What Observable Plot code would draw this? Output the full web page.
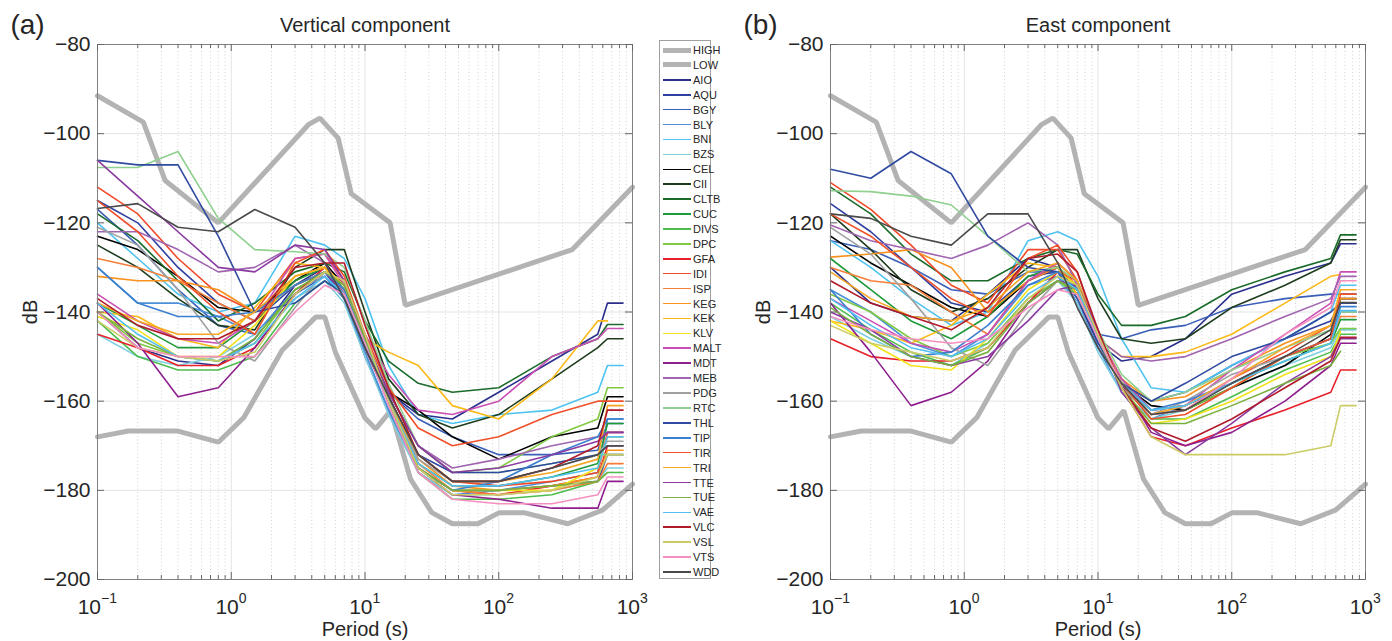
<!DOCTYPE html>
<html><head><meta charset="utf-8">
<script src="https://cdn.jsdelivr.net/npm/d3@7"></script>
<script src="https://cdn.jsdelivr.net/npm/@observablehq/plot@0.6"></script>
<style>
body{margin:0;background:#fff;font-family:"Liberation Sans",Arial,sans-serif;}
#wrap{position:relative;width:1392px;height:641px;overflow:hidden;background:#fff;}
#wrap svg{position:absolute;top:0;}
#legend{position:absolute;left:659px;top:40px;width:52px;height:539px;border:1px solid #a0a0a0;background:#fff;box-sizing:border-box;}
.lrow{position:absolute;left:0;height:14px;width:100%;}
.lsw{position:absolute;left:3px;width:28px;}
.ltx{position:absolute;left:33px;top:0;font-size:11px;line-height:14px;color:#262626;white-space:nowrap;}
</style></head><body><div id="wrap"><div id="legend"></div></div>
<script>
// ---------- data ----------
const periods = [0.1, 0.2, 0.4, 0.8, 1.5, 3, 5, 7, 10, 15, 25, 45, 100, 250, 550, 650, 850];

const highPeriods = [0.1, 0.22, 0.32, 0.8, 3.8, 4.6, 6.3, 7.9, 15.4, 20, 354.8, 1000];
const highDB      = [-91.5, -97.4, -110.5, -120, -97.9, -96.5, -101, -113.5, -120, -138.5, -126, -112];
const lowPeriods  = [0.1, 0.17, 0.4, 0.8, 1.24, 2.4, 4.3, 5, 6, 10, 12, 15.6, 21.9, 31.6, 45, 70, 101, 154, 328, 600, 1000];
const lowDB       = [-168, -166.7, -166.7, -169.2, -163.7, -148.6, -141.1, -141.1, -149, -163.8, -166.2, -162.1, -177.5, -185, -187.5, -187.5, -185, -185, -187.5, -184.4, -178.6];

const stationNames = ["AIO","AQU","BGY","BLY","BNI","BZS","CEL","CII","CLTB","CUC","DIVS","DPC","GFA","IDI","ISP","KEG","KEK","KLV","MALT","MDT","MEB","PDG","RTC","THL","TIP","TIR","TRI","TTE","TUE","VAE","VLC","VSL","VTS","WDD"];
const stationColors = ["#2b2f8c","#2e3fa0","#3a5fb8","#4a8fd8","#4fc3f0","#7dcfe0","#000000","#1e3d1e","#1a6b2a","#1f9a3a","#4dbd4d","#80c940","#e8202a","#f04a2a","#f57f3a","#f7921e","#fbb917","#f2e21a","#c94fb5","#8e1f8e","#a064b0","#a0a0a0","#8fd08f","#2f4aa0","#3a7fcf","#f0502a","#f5a623","#8a3aa0","#7ab040","#52bff0","#b01a2a","#cccc66","#f58fc0","#4a4a4a"];

// Vertical component (dB) at `periods`
const verticalDB = [
 [-140,-148,-151,-152,-146,-134,-130,-135,-147,-158,-163,-164,-158,-151,-145,-138,-138], // AIO
 [-115,-120,-130,-138,-142,-134,-131,-137,-150,-162,-175,-180,-180,-179,-178,-172,-172], // AQU
 [-117,-125,-135,-143,-145,-136,-132,-137,-148,-158,-164,-168,-172,-172,-171,-165,-165], // BGY
 [-130,-138,-138,-141,-145,-135,-132,-137,-149,-162,-176,-181,-180,-178,-176,-164,-164], // BLY
 [-120,-128,-136,-140,-138,-123,-125,-128,-137,-152,-163,-165,-163,-162,-158,-152,-152], // BNI
 [-145,-150,-152,-150,-145,-137,-133,-138,-150,-163,-176,-181,-181,-180,-178,-175,-175], // BZS
 [-123,-126,-132,-139,-140,-133,-129,-134,-147,-158,-162,-168,-173,-168,-166,-159,-159], // CEL
 [-125,-130,-137,-143,-144,-130,-126,-126,-140,-155,-163,-166,-163,-155,-148,-146,-146], // CII
 [-118,-124,-133,-142,-138,-131,-129,-131,-142,-151,-156,-158,-157,-150,-146,-142.8,-142.8], // CLTB
 [-138,-143,-148,-148,-142,-133,-130,-135,-147,-160,-174,-179,-179,-177,-174,-165,-165], // CUC
 [-142,-150,-153,-153,-150,-138,-133,-136,-146,-160,-176,-182,-182,-181,-178,-176,-176], // DIVS
 [-140,-147,-150,-151,-147,-135,-131,-134,-146,-158,-170,-176,-175,-168,-164,-157,-157], // DPC
 [-145,-148,-152,-152,-148,-136,-130,-134,-146,-160,-175,-180,-181,-179,-177,-170,-170], // GFA
 [-112,-118,-128,-136,-140,-128,-127,-133,-146,-159,-172,-178,-179,-178,-176,-167,-167], // IDI
 [-128,-130,-133,-138,-142,-132,-130,-136,-148,-160,-174,-180,-181,-180,-178,-174,-174], // ISP
 [-132,-133,-133,-135,-140,-134,-131,-135,-147,-159,-173,-179,-180,-179,-177,-171,-171], // KEG
 [-140,-141,-146,-148,-139,-129,-130,-136,-146,-149,-152,-161,-164,-155,-142,-142,null], // KEK
 [-141,-144,-150,-150,-143,-132,-130,-134,-146,-160,-175,-180,-180,-180,-175,-168,-168], // KLV
 [-136,-142,-146,-147,-142,-128,-127,-134,-145,-154,-162,-163,-160,-150,-146,-143.7,-143.7], // MALT
 [-138,-147,-159,-157,-148,-136,-131,-136,-148,-160,-175,-181,-182,-184,-184,-178,-178], // MDT
 [-122,-122,-126,-131,-130,-125,-129,-136,-147,-158,-170,-175,-173,-170,-168,-167,-167], // MEB
 [-121,-125,-135,-147,-151,-139,-131,-135,-147,-159,-173,-178,-178,-175,-172,-169,-169], // PDG
 [-107.6,-107.6,-104,-119,-126,-126.5,-127,-130,-142,-156,-170,-176,-176,-174,-172,-172,-172], // RTC
 [-106,-107,-107,-123,-140,-138,-133,-136,-148,-159,-172,-176,-176,-174,-172,-170,-170], // THL
 [-130,-138,-141,-141,-140,-134,-131,-135,-146,-160,-175,-180,-178,-172,-168,-164,-164], // TIP
 [-115,-122,-132,-140,-145,-129,-126,-132,-145,-157,-166,-170,-168,-163,-160,-160,-160], // TIR
 [-138,-142,-145,-145,-140,-132,-130,-134,-146,-160,-172,-178,-178,-176,-173,-161,-161], // TRI
 [-106,-114,-122,-130,-131,-125,-126,-133,-146,-158,-170,-176,-175,-172,-169,-167,-167], // TTE
 [-140,-146,-150,-151,-146,-135,-131,-134,-146,-160,-175,-180,-180,-179,-178,-176,null], // TUE
 [-138,-145,-150,-151,-147,-137,-132,-136,-147,-160,-174,-179,-179,-177,-175,-168,-168], // VAE
 [-137,-143,-146,-146,-142,-130,-129,-129,-143,-157,-172,-178,-178,-175,-170,-162,-162], // VLC
 [-142,-148,-150,-151,-149,-136,-131,-133,-145,-160,-175,-181,-181,-180,-177,-172,-172], // VSL
 [-140,-148,-150,-150,-150,-140,-134,-136,-147,-161,-176,-182,-183,-183,-181,-177,-177], // VTS
 [-116.8,-115.7,-121,-122,-117,-121,-129,-137,-148,-159,-172,-178,-178,-175,-172,-170,-170] // WDD
];

// East component (dB) at `periods`
const eastDB = [
 [-130,-138,-141,-142,-136,-128,-130,-137,-147,-151,-150,-146,-136,-132,-129,-124.7,-124.7], // AIO
 [-115.7,-122,-130,-138,-140,-132,-131,-138,-148,-156,-160,-158,-152,-146,-142,-138,-138], // AQU
 [-124,-126,-130,-135,-136,-131,-131,-137,-145,-146,-144,-143,-139,-137,-136,-136,-136], // BGY
 [-135,-140,-147,-150,-145,-134,-132,-138,-148,-158,-164,-161,-156,-150,-146,-140,-140], // BLY
 [-124,-130,-137,-143,-140,-124,-122,-124,-132,-146,-157,-158,-152,-146,-140,-134,-134], // BNI
 [-141,-146,-150,-152,-147,-137,-133,-138,-149,-158,-164,-162,-157,-152,-148,-144,-144], // BZS
 [-123,-129,-134,-139,-141,-133,-130,-135,-146,-156,-161,-162,-157,-152,-145,-137,-137], // CEL
 [-118,-126,-135,-140,-137,-130,-126,-126,-137,-146,-147,-146,-139,-134,-129,-123.8,-123.8], // CII
 [-112,-118,-127,-133,-133,-128,-126,-127,-136,-143,-143,-141,-135,-131,-128,-122.7,-122.7], // CLTB
 [-128,-135,-142,-146,-141,-132,-130,-135,-146,-155,-162,-161,-156,-151,-147,-141.7,-141.7], // CUC
 [-138,-144,-149,-152,-148,-138,-133,-136,-146,-156,-164,-164,-159,-153,-149,-145,-145], // DIVS
 [-136,-140,-146,-150,-147,-137,-133,-136,-146,-155,-163,-162,-157,-150,-147,-143.7,-143.7], // DPC
 [-146,-150,-151,-151,-148,-138,-131,-133,-145,-157,-168,-170,-166,-162,-158,-153,-153], // GFA
 [-111,-117,-125,-134,-138,-126,-126,-133,-145,-156,-163,-162,-155,-149,-143,-138,-138], // IDI
 [-130,-133,-134,-140,-145,-133,-130,-134,-146,-156,-162,-161,-156,-150,-146,-141,-141], // ISP
 [-127.7,-127,-126,-130,-140,-133,-129,-133,-145,-155,-160,-159,-153,-147,-143,-137,-137], // KEG
 [-142,-144,-147,-143,-136,-129,-130,-136,-146,-150,-150,-149,-145,-138,-132,-131.6,null], // KEK
 [-142,-147,-152,-153,-146,-135,-131,-134,-146,-157,-165,-164,-160,-154,-150,-144.4,null], // KLV
 [-137,-142,-147,-149,-145,-133,-129,-133,-145,-155,-162,-161,-153,-145,-138,-131,-131], // MALT
 [-138,-149,-161,-158,-151,-138,-133,-134,-145,-156,-167,-170,-167,-160,-152,-147,-147], // MDT
 [-120.5,-124,-126,-128,-125,-120,-125,-134,-146,-150,-151,-150,-146,-141,-137,-132,-132], // MEB
 [-121,-127,-137,-148,-152,-140,-133,-135,-146,-157,-163,-160,-154,-150,-146,-140,-140], // PDG
 [-112.8,-113,-114,-116,-123,-131,-130,-133,-144,-154,-160,-158,-153,-148,-144,-140,-140], // RTC
 [-108,-110,-104,-109,-123,-130,-131,-135,-147,-156,-160,-156,-150,-146,-140,-138,-138], // THL
 [-135,-145,-150,-149,-143,-134,-131,-135,-146,-156,-162,-160,-156,-150,-146,-138.8,-138.8], // TIP
 [-118,-123,-130,-137,-141,-128,-125,-131,-145,-156,-164,-163,-157,-150,-146,-136,-136], // TIR
 [-131,-137,-141,-142,-139,-131,-129,-133,-145,-156,-163,-161,-155,-148,-143,-135,-135], // TRI
 [-140,-144,-150,-152,-150,-142,-135,-134,-144,-158,-166,-172,-165,-156,-150,-146,-146], // TTE
 [-139,-145,-150,-152,-149,-138,-133,-135,-146,-157,-165,-165,-161,-156,-152,-148.8,null], // TUE
 [-137,-143,-148,-150,-146,-136,-132,-135,-146,-156,-162,-161,-156,-151,-147,-139.7,-139.7], // VAE
 [-133,-138,-141,-144,-139,-128,-127,-131,-144,-157,-166,-169,-164,-157,-151,-145.7,-145.7], // VLC
 [-143,-147,-149,-151,-148,-137,-132,-134,-145,-157,-168,-172,-172,-172,-170,-161,-161], // VSL
 [-141,-144,-146,-147,-146,-139,-135,-136,-146,-156,-163,-162,-155,-145,-139,-133,-133], // VTS
 [-118,-119,-123,-125,-118,-118,-129,-139,-148,-156,-163,-162,-156,-150,-144,-137.9,-137.9] // WDD
];

const xTickExponents = [-1, 0, 1, 2, 3];
const yTicks = [-80, -100, -120, -140, -160, -180, -200];

// ---------- helpers ----------
const majorX = xTickExponents.map(e => Math.pow(10, e));
const minorX = [];
for (let e = -1; e < 3; e++) for (let k = 2; k <= 9; k++) minorX.push(k * Math.pow(10, e));
const highData = highPeriods.map((p, i) => ({p, db: highDB[i]}));
const lowData = lowPeriods.map((p, i) => ({p, db: lowDB[i]}));
const pxPerDB = 535 / 120;
const dbPx = px => px / pxPerDB;
const logPx = px => Math.pow(10, px / 133.75);
const negExp = xTickExponents.filter(e => e < 0);
const posExp = xTickExponents.filter(e => e >= 0);
const txt = "#262626";

function panel(table, title, tag) {
  const marks = [];
  marks.push(Plot.ruleX(minorX, {stroke: "#c8c8c8", strokeDasharray: "1,2.5", strokeWidth: 0.8}));
  marks.push(Plot.ruleX(majorX, {stroke: "#e4e4e4", strokeWidth: 1}));
  marks.push(Plot.ruleY(yTicks, {stroke: "#e4e4e4", strokeWidth: 1}));
  marks.push(Plot.line(highData, {x: "p", y: "db", stroke: "#b3b3b3", strokeWidth: 5, strokeLinejoin: "miter"}));
  marks.push(Plot.line(lowData, {x: "p", y: "db", stroke: "#b3b3b3", strokeWidth: 5, strokeLinejoin: "miter"}));
  table.forEach((vals, i) => {
    const rows = vals.map((v, j) => ({p: periods[j], db: v})).filter(d => d.db != null);
    marks.push(Plot.line(rows, {x: "p", y: "db", stroke: stationColors[i], strokeWidth: 1.6}));
  });
  marks.push(Plot.frame({stroke: "#808080", strokeWidth: 1}));
  // inward ticks
  const mt = dbPx(4), Mt = dbPx(7);
  marks.push(Plot.ruleX(minorX, {y1: -200, y2: -200 + mt, stroke: "#666"}));
  marks.push(Plot.ruleX(minorX, {y1: -80, y2: -80 - mt, stroke: "#666"}));
  marks.push(Plot.ruleX(majorX, {y1: -200, y2: -200 + Mt, stroke: "#666"}));
  marks.push(Plot.ruleX(majorX, {y1: -80, y2: -80 - Mt, stroke: "#666"}));
  marks.push(Plot.ruleY(yTicks, {x1: 0.1, x2: 0.1 * logPx(7), stroke: "#666"}));
  marks.push(Plot.ruleY(yTicks, {x1: 1000, x2: 1000 / logPx(7), stroke: "#666"}));
  // y tick labels
  marks.push(Plot.text(yTicks, {x: () => 0.1, y: d => d, text: d => "\u2212" + Math.abs(d), textAnchor: "end", dx: -7, fontSize: 21, fill: txt}));
  // x tick labels: base "10" and superscript exponent
  marks.push(Plot.text(negExp, {x: e => Math.pow(10, e), y: () => -200, text: () => "10", textAnchor: "end", dx: 3.5, dy: 28, fontSize: 21, fill: txt}));
  marks.push(Plot.text(negExp, {x: e => Math.pow(10, e), y: () => -200, text: e => "\u2212" + Math.abs(e), textAnchor: "start", dx: 3.5, dy: 19, fontSize: 14, fill: txt}));
  marks.push(Plot.text(posExp, {x: e => Math.pow(10, e), y: () => -200, text: () => "10", textAnchor: "end", dx: 7.5, dy: 28, fontSize: 21, fill: txt}));
  marks.push(Plot.text(posExp, {x: e => Math.pow(10, e), y: () => -200, text: e => String(e), textAnchor: "start", dx: 7.5, dy: 19, fontSize: 14, fill: txt}));
  // axis titles
  marks.push(Plot.text(["Period (s)"], {x: () => 10, y: () => -200, text: d => d, dy: 50, fontSize: 20, fill: txt}));
  marks.push(Plot.text(["dB"], {x: () => 0.1, y: () => -140, text: d => d, dx: -67, rotate: -90, fontSize: 20, fill: txt}));
  marks.push(Plot.text([title], {x: () => 10, y: () => -80, text: d => d, dy: -19, fontSize: 20, fill: txt}));
  marks.push(Plot.text([tag], {x: () => 0.1, y: () => -80, text: d => d, dx: -70, dy: -19, fontSize: 28, fill: txt}));
  return Plot.plot({
    width: 660, height: 641,
    marginLeft: 97, marginRight: 28, marginTop: 44, marginBottom: 62,
    x: {type: "log", domain: [0.1, 1000], axis: null},
    y: {domain: [-200, -80], axis: null},
    style: {fontFamily: "'Liberation Sans', Arial, sans-serif", background: "transparent", overflow: "visible"},
    marks
  });
}

const wrap = document.getElementById("wrap");
const a = panel(verticalDB, "Vertical component", "(a)");
a.style.left = "0px";
wrap.insertBefore(a, wrap.firstChild);
const b = panel(eastDB, "East component", "(b)");
b.style.left = "733px";
wrap.appendChild(b);

// legend
const legend = document.getElementById("legend");
const entries = [{name: "HIGH", color: "#b3b3b3", w: 5}, {name: "LOW", color: "#b3b3b3", w: 5}]
  .concat(stationNames.map((n, i) => ({name: n, color: stationColors[i], w: 1.6})));
const step = (572 - 50) / (entries.length - 1);
entries.forEach((e, i) => {
  const cy = 50 + i * step - 40 - 1;
  const row = document.createElement("div");
  row.className = "lrow";
  row.style.top = (cy - 7) + "px";
  const sw = document.createElement("div");
  sw.className = "lsw";
  sw.style.top = (7 - e.w / 2) + "px";
  sw.style.height = e.w + "px";
  sw.style.background = e.color;
  const tx = document.createElement("div");
  tx.className = "ltx";
  tx.textContent = e.name;
  row.appendChild(sw); row.appendChild(tx);
  legend.appendChild(row);
});
</script></body></html>
